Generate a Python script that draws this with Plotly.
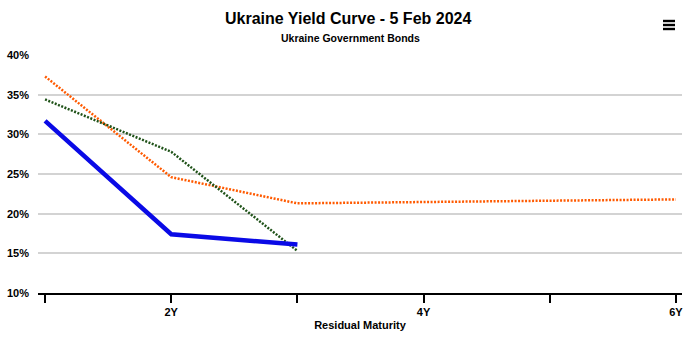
import plotly.graph_objects as go

maturity_years = [1, 2, 3]
orange_years = [1, 2, 3, 6]
blue_yields = [31.7, 17.4, 16.1]
orange_yields = [37.3, 24.6, 21.3, 21.8]
green_yields = [34.4, 27.8, 15.3]

x_tick_vals = [2, 4, 6]
x_tick_text = ["2Y", "4Y", "6Y"]
y_tick_vals = [10, 15, 20, 25, 30, 35, 40]
y_tick_text = ["10%", "15%", "20%", "25%", "30%", "35%", "40%"]

title_text = "Ukraine Yield Curve - 5 Feb 2024"
subtitle_text = "Ukraine Government Bonds"
x_title = "Residual Maturity"

FONT = "Liberation Sans, Arial, sans-serif"

fig = go.Figure()
fig.add_trace(go.Scatter(x=orange_years, y=orange_yields, mode="lines",
                         line=dict(color="#FF5A00", width=2.5, dash="2px,1.5px"),
                         hoverinfo="skip", showlegend=False))
fig.add_trace(go.Scatter(x=maturity_years, y=green_yields, mode="lines",
                         line=dict(color="#1f5218", width=2.5, dash="2px,1.5px"),
                         hoverinfo="skip", showlegend=False))
fig.add_trace(go.Scatter(x=maturity_years, y=blue_yields, mode="lines",
                         line=dict(color="#0a0ae6", width=4.5),
                         hoverinfo="skip", showlegend=False))

W, H = 700, 339
L, R, T, B = 38, 18, 55, 46
pw = W - L - R
ph = H - T - B

fig.update_layout(
    width=W, height=H,
    margin=dict(l=L, r=R, t=T, b=B),
    paper_bgcolor="white", plot_bgcolor="white",
    font=dict(family=FONT, color="#000", size=11),
    showlegend=False,
    xaxis=dict(
        range=[0.944, 6.048], automargin=False,
        tickmode="array", tickvals=x_tick_vals, ticktext=x_tick_text,
        ticks="outside", ticklen=8, tickwidth=1.5, tickcolor="#000",
        minor=dict(dtick=1, tick0=0, ticks="outside", ticklen=8, tickwidth=1.5, tickcolor="#000", showgrid=False),
        showgrid=False, zeroline=False,
        showline=True, linecolor="#000", linewidth=2,
        tickfont=dict(family=FONT, size=11, color="#000", weight="bold"),
        title=dict(text=x_title, font=dict(family=FONT, size=11, color="#000", weight="bold"), standoff=4),
    ),
    yaxis=dict(
        range=[10, 40], automargin=False,
        tickmode="array", tickvals=y_tick_vals, ticktext=y_tick_text,
        showgrid=True, gridcolor="#d3d3d3", gridwidth=1.5,
        zeroline=False, showline=False, ticks="",
        ticklabelstandoff=8,
        tickfont=dict(family=FONT, size=11, color="#000", weight="bold"),
    ),
    annotations=[
        dict(text=title_text, xref="paper", yref="paper", x=(348 - L) / pw, y=1 + 37 / ph,
             xanchor="center", yanchor="middle", showarrow=False,
             font=dict(family=FONT, size=16, color="#000", weight="bold")),
        dict(text=subtitle_text, xref="paper", yref="paper", x=(350 - L) / pw, y=1 + 17 / ph,
             xanchor="center", yanchor="middle", showarrow=False,
             font=dict(family=FONT, size=10.5, color="#000", weight="bold")),
    ],
)

# hamburger menu icon (decoration)
for yy in [21, 25, 29]:
    x0 = (663 - L) / pw
    x1 = (675 - L) / pw
    y0 = (H - B - yy - 1.2) / ph
    y1 = (H - B - yy + 1.2) / ph
    fig.add_shape(type="rect", xref="paper", yref="paper", x0=x0, x1=x1, y0=y0, y1=y1,
                  fillcolor="#000", line=dict(width=0))

fig.write_html("out.html")
